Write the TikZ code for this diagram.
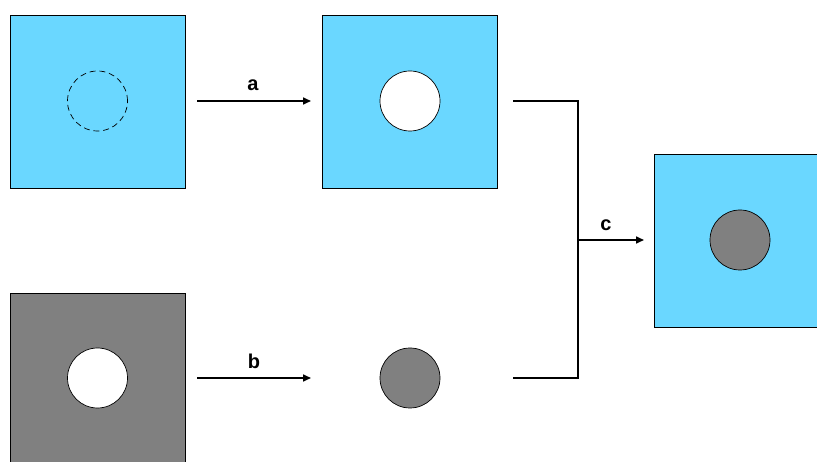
\documentclass[tikz,border=0pt]{standalone}
\usepackage{fontspec}
\setmainfont{Liberation Sans}
\usetikzlibrary{arrows.meta}
\definecolor{skyfill}{HTML}{6AD7FF}
\definecolor{midgray}{HTML}{808080}
\begin{document}
\begin{tikzpicture}[x=1pt,y=-1pt,
  plate/.style={draw=black, line width=0.7pt, minimum width=175pt, minimum height=173pt, inner sep=0pt},
  hole/.style={circle, draw=black, line width=0.7pt, minimum size=60pt, inner sep=0pt},
  flow/.style={line width=1.6pt, -{Triangle[length=8pt,width=7pt]}},
  link/.style={line width=1.6pt},
  tag/.style={font=\bfseries\fontsize{20}{24}\selectfont, inner sep=0pt, anchor=base}]
\useasboundingbox (0,0) rectangle (817,462);
% source plate with marked cut line
\node[plate, fill=skyfill] (p1) at (97.5,101.5) {};
\node[hole, dash pattern=on 6pt off 3.8pt] (h1) at (97.5,101) {};
% plate after punching
\node[plate, fill=skyfill] (p2) at (409.5,101.5) {};
\node[hole, fill=white] (h2) at (410,101) {};
% second plate and its punched slug
\node[plate, fill=midgray] (p4) at (97.5,380) {};
\node[hole, fill=white] (h4) at (97.5,378) {};
\node[hole, fill=midgray] (s4) at (410,378) {};
% assembled result
\node[plate, fill=skyfill] (p3) at (741.5,240.5) {};
\node[hole, fill=midgray] (h3) at (740,240) {};
% process arrows
\coordinate (a0) at (197,101);
\coordinate (a1) at (311,101);
\draw[flow] (a0) -- node[tag, yshift=10pt, xshift=-1pt] {a} (a1);
\coordinate (b0) at (197,378);
\coordinate (b1) at (311,378);
\draw[flow] (b0) -- node[tag, yshift=9pt] {b} (b1);
% merge bracket
\coordinate (m1) at (513,101);
\coordinate (m2) at (513,378);
\coordinate (mj) at (578,240);
\coordinate (c1) at (644,240);
\draw[link] (m1) -| (mj |- m2) -- (m2);
\draw[flow] (mj) -- node[tag, yshift=9pt, xshift=-5pt] {c} (c1);
\end{tikzpicture}
\end{document}
